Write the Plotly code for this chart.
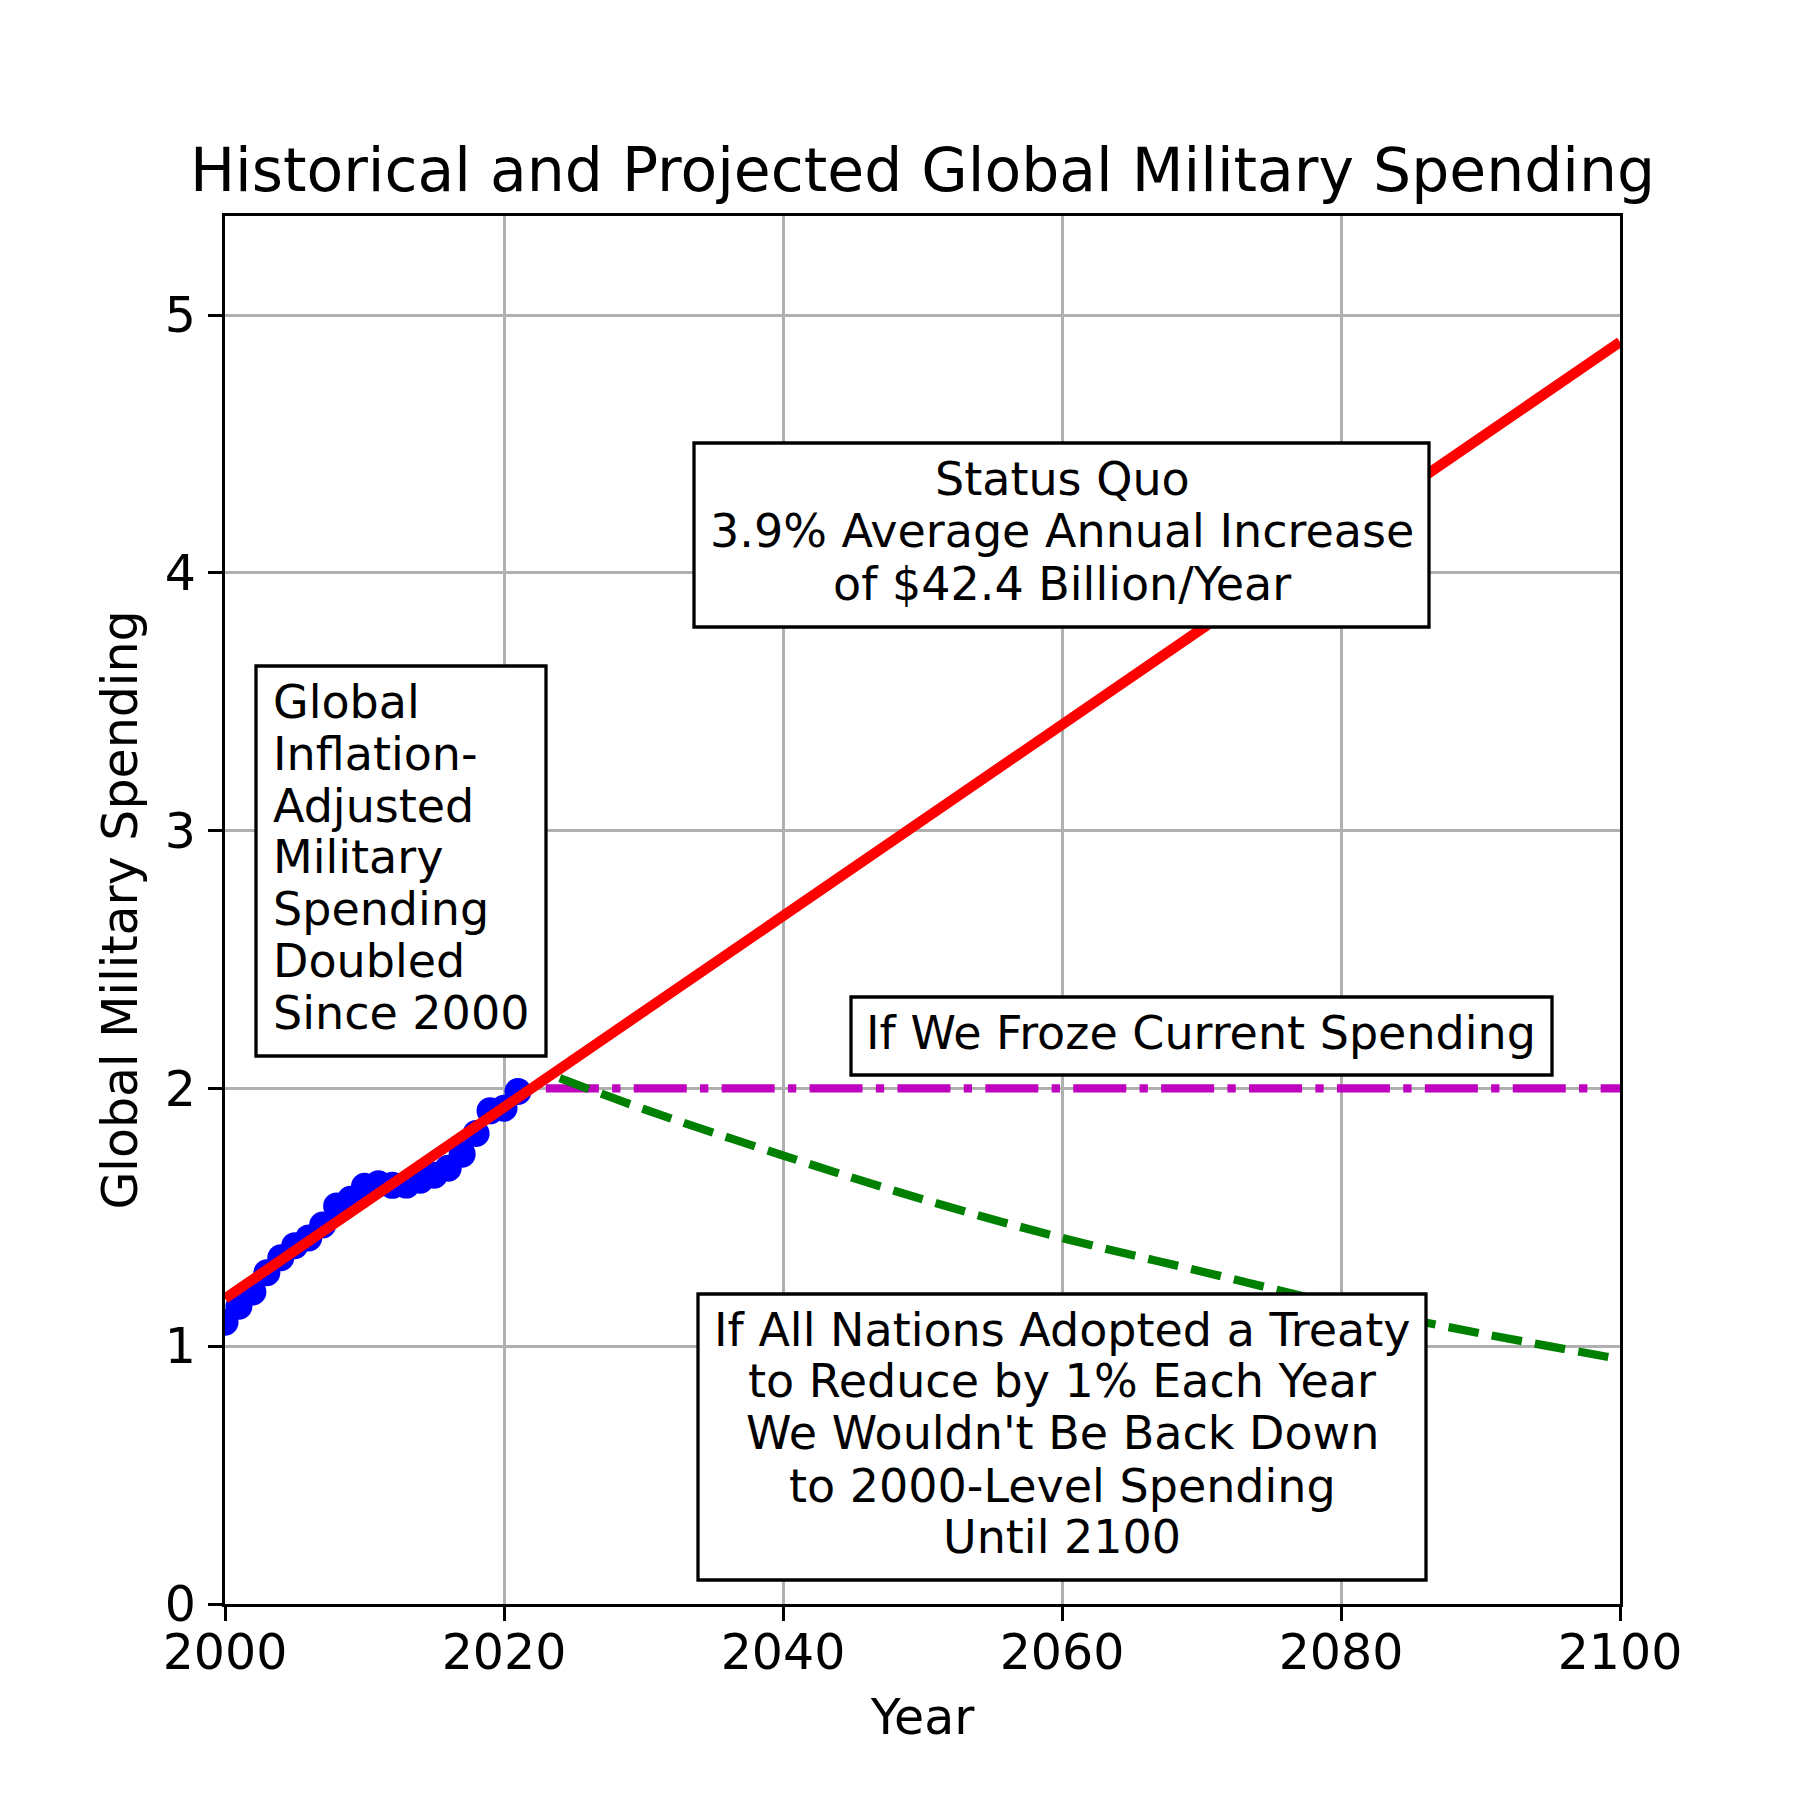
import plotly.graph_objects as go

# ---------------- data ----------------
hist_years = [2000, 2001, 2002, 2003, 2004, 2005, 2006, 2007, 2008, 2009, 2010,
              2011, 2012, 2013, 2014, 2015, 2016, 2017, 2018, 2019, 2020, 2021]
hist_spending = [1.093, 1.155, 1.21, 1.285, 1.343, 1.39, 1.42, 1.47, 1.544, 1.57, 1.62,
                 1.63, 1.624, 1.625, 1.644, 1.663, 1.69, 1.745, 1.825, 1.913, 1.923, 1.988]

trend_years = [2000, 2100]
trend_values = [1.185, 4.895]

freeze_years = [2023, 2100]
freeze_values = [2.0, 2.0]

treaty_years = [2024, 2030, 2040, 2050, 2060, 2070, 2080, 2090, 2100]
treaty_values = [2.04, 1.92, 1.74, 1.57, 1.42, 1.29, 1.16, 1.05, 0.95]

x_ticks = [2000, 2020, 2040, 2060, 2080, 2100]
y_ticks = [0, 1, 2, 3, 4, 5]

title_text = "Historical and Projected Global Military Spending"
x_title = "Year"
y_title = "Global Military Spending"

box_global = ["Global", "Inflation-", "Adjusted", "Military", "Spending", "Doubled", "Since 2000"]
box_status = ["Status Quo", "3.9% Average Annual Increase", "of $42.4 Billion/Year"]
box_freeze = ["If We Froze Current Spending"]
box_treaty = ["If All Nations Adopted a Treaty", "to Reduce by 1% Each Year",
              "We Wouldn't Be Back Down", "to 2000-Level Spending", "Until 2100"]

# ---------------- layout geometry ----------------
W = H = 1800
OFF = 8                               # page body margin in the browser
L, R, T, B = 225, 1620, 216, 1604     # plot area in page pixels
X0, X1 = 2000, 2100
Y0, Y1 = 0.0, (B - T) / ((B - 315) / 5.0)

def px_x(p):
    return X0 + (p - L) / (R - L) * (X1 - X0)

def px_y(p):
    return Y0 + (B - p) / (B - T) * (Y1 - Y0)

FONT = "DejaVu Sans"
BOX_FS = 46

fig = go.Figure()
fig.add_trace(go.Scatter(x=hist_years, y=hist_spending, mode="markers",
                         marker=dict(color="#0000ff", size=27, line=dict(width=0)),
                         showlegend=False))
fig.add_trace(go.Scatter(x=trend_years, y=trend_values, mode="lines",
                         line=dict(color="#ff0000", width=10.4), showlegend=False))
fig.add_trace(go.Scatter(x=freeze_years, y=freeze_values, mode="lines",
                         line=dict(color="#bf00bf", width=8.3,
                                   dash="53px,13.3px,8.3px,13.3px"),
                         showlegend=False))
fig.add_trace(go.Scatter(x=treaty_years, y=treaty_values, mode="lines",
                         line=dict(color="#008000", width=8.3, dash="30.7px,13.3px",
                                   shape="spline"),
                         showlegend=False))

shapes = []
annotations = []

def add_box(x0, x1, y0, y1):
    shapes.append(dict(type="rect", xref="x", yref="y",
                       x0=px_x(x0), x1=px_x(x1), y0=px_y(y1), y1=px_y(y0),
                       line=dict(color="black", width=3.3), fillcolor="white",
                       layer="above"))

def add_lines(lines, xpix, baselines, anchor):
    for txt, bl in zip(lines, baselines):
        annotations.append(dict(text=txt, xref="x", yref="y",
                                x=px_x(xpix), y=px_y(bl - 0.346 * BOX_FS),
                                xanchor=anchor, yanchor="middle", showarrow=False,
                                borderpad=0,
                                font=dict(family=FONT, size=BOX_FS, color="black")))

add_box(256, 546, 666, 1056)
add_lines(box_global, 272, [718 + 51.8 * k for k in range(7)], "left")

add_box(694, 1429, 443, 627)
add_lines(box_status, 1062, [495, 547, 600], "center")

add_box(851, 1552, 997, 1075)
add_lines(box_freeze, 1201, [1049], "center")

add_box(698, 1426, 1294, 1580)
add_lines(box_treaty, 1062, [1346, 1397, 1449, 1502, 1553], "center")

axis_common = dict(showline=True, linecolor="black", linewidth=3.3, mirror=True,
                   ticks="outside", ticklen=14, tickwidth=3.3, tickcolor="black",
                   showgrid=True, gridcolor="#b0b0b0", gridwidth=2.7, zeroline=False,
                   tickfont=dict(family=FONT, size=49, color="black"))

fig.update_layout(
    width=W, height=H,
    margin=dict(l=L - OFF, r=W - R + OFF, t=T - OFF, b=H - B + OFF, pad=0),
    paper_bgcolor="white", plot_bgcolor="white",
    font=dict(family=FONT, color="black"),
    title=dict(text=title_text, font=dict(family=FONT, size=60, color="black"),
               x=0.5, xref="paper", y=1 - (191 - OFF - 0.346 * 60) / H, yref="container",
               xanchor="center", yanchor="middle"),
    xaxis=dict(range=[X0, X1], tickvals=x_ticks,
               title=dict(text=x_title, font=dict(family=FONT, size=49, color="black"),
                          standoff=20),
               ticklabelstandoff=-11, **axis_common),
    yaxis=dict(range=[Y0, Y1], tickvals=y_ticks,
               title=dict(text=y_title, font=dict(family=FONT, size=49, color="black"),
                          standoff=12),
               ticklabelstandoff=2, **axis_common),
    shapes=shapes, annotations=annotations, showlegend=False,
)

fig.write_html("out.html")
